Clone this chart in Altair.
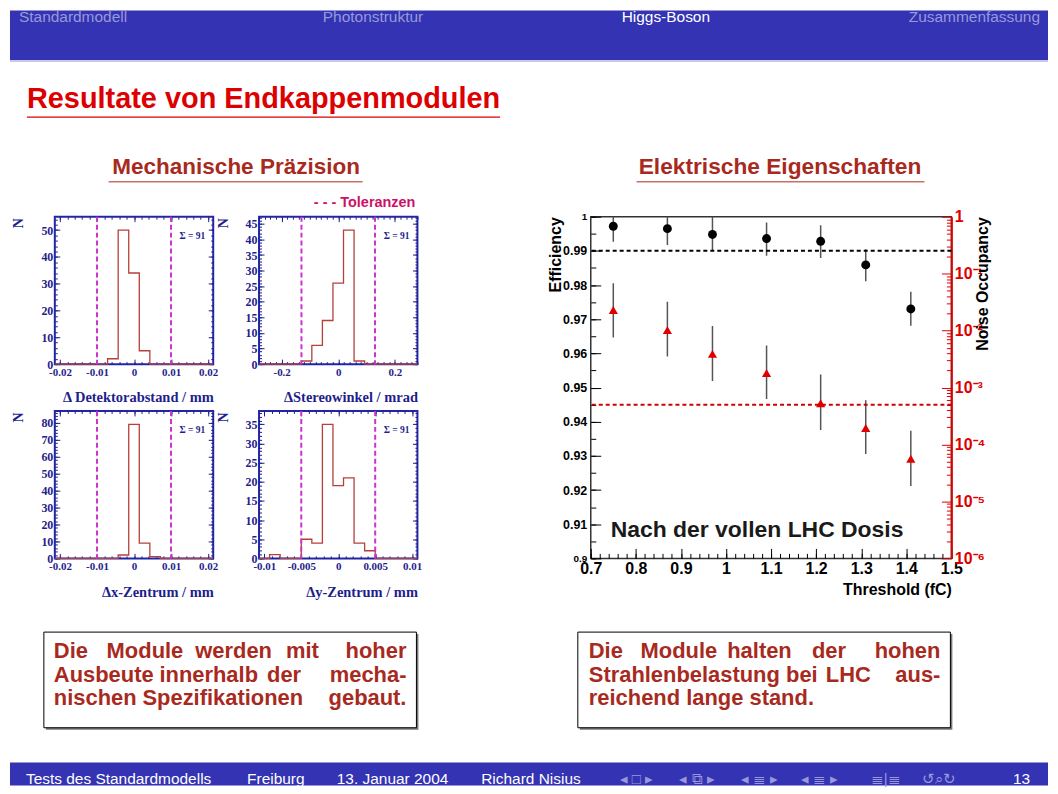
import altair as alt
import pandas as pd
import numpy as np

# ---------------- data ----------------
# four histograms, 15 equal bins each over [lo, hi]
det_range = [-0.0214, 0.0214]
det_counts = [0, 0, 0, 0, 0, 2, 50, 34, 5, 0, 0, 0, 0, 0, 0]
det_tol = [-0.01, 0.01]
det_xticks = [-0.02, -0.01, 0, 0.01, 0.02]
det_yticks = [0, 10, 20, 30, 40, 50]

stereo_range = [-0.28, 0.28]
stereo_counts = [0, 0, 0, 0, 1, 6, 14, 26, 43, 1, 0, 0, 0, 0, 0]
stereo_tol = [-0.13, 0.13]
stereo_xticks = [-0.2, 0, 0.2]
stereo_yticks = [0, 5, 10, 15, 20, 25, 30, 35, 40, 45]

xz_range = [-0.0214, 0.0214]
xz_counts = [0, 0, 0, 0, 0, 0, 2, 79, 9, 1, 0, 0, 0, 0, 0]
xz_tol = [-0.01, 0.01]
xz_xticks = [-0.02, -0.01, 0, 0.01, 0.02]
xz_yticks = [0, 10, 20, 30, 40, 50, 60, 70, 80]

yz_range = [-0.010714, 0.010714]
yz_counts = [0, 1, 0, 0, 5, 4, 35, 19, 21, 4, 2, 0, 0, 0, 0]
yz_tol = [-0.005, 0.005]
yz_xticks = [-0.01, -0.005, 0, 0.005, 0.01]
yz_yticks = [0, 5, 10, 15, 20, 25, 30, 35]

# efficiency / noise occupancy vs threshold
thr = [0.75, 0.87, 0.97, 1.09, 1.21, 1.31, 1.41]
eff = [0.9972, 0.9965, 0.9948, 0.9936, 0.9928, 0.9859, 0.9730]
eff_lo = [0.9927, 0.9917, 0.9900, 0.9886, 0.9879, 0.9811, 0.9681]
eff_hi = [1.0017, 1.0013, 1.0005, 0.9983, 0.9975, 0.9905, 0.9780]
occ = [2.3e-2, 1.02e-2, 3.9e-3, 1.8e-3, 5.3e-4, 1.95e-4, 5.6e-5]
occ_lo = [7.6e-3, 3.5e-3, 1.3e-3, 6.3e-4, 1.8e-4, 6.8e-5, 1.86e-5]
occ_hi = [6.8e-2, 3.2e-2, 1.2e-2, 5.5e-3, 1.7e-3, 6.0e-4, 1.74e-4]
eff_limit = [0.99]
occ_limit = [5e-4]

# ---------------- styles ----------------
SANS = "Liberation Sans"
SERIF = "Liberation Serif"
BLUE = "#3333B3"
NAVLIGHT = "#9999D9"
RED = "#DD0000"
DARKRED = "#A82A1E"
NAVY = "#1E1E8C"
FRAME = "#2424A6"
HCOL = "#B5403A"
TOLC = "#CC33CC"
one = pd.DataFrame({"a": [0]})


def ticks(lo, hi, step):
    n0 = int(np.ceil(lo / step - 1e-9))
    n1 = int(np.floor(hi / step + 1e-9))
    return [round(k * step, 7) for k in range(n0, n1 + 1)]


def ax(orient, values, size, color, labels=False, **kw):
    d = dict(orient=orient, values=values, tickSize=size, offset=-size,
             domain=False, grid=False, labels=labels, tickColor=color,
             tickWidth=1, title=None)
    d.update(kw)
    return alt.Axis(**d)


def hist_panel(counts, rng, tol, xmaj, xstep, ymaj, ystep, xtitle, w=159, h=148):
    edges = np.linspace(rng[0], rng[1], len(counts) + 1)
    df = pd.DataFrame({"x": edges, "n": list(counts) + [0]})
    ymax = max(counts) * 1.1
    xs = alt.Scale(domain=rng, nice=False, zero=False)
    ys = alt.Scale(domain=[0, ymax], nice=False, zero=False)
    xminor = ticks(rng[0], rng[1], xstep)
    yminor = ticks(0, ymax, ystep)
    lab = dict(labelFont=SERIF, labelFontWeight="bold",
               labelColor=NAVY, labelPadding=2, labelFlush=False,
               labelOverlap=False,
               labelExpr="replace(format(datum.value, '~g'), '\u2212', '-')")
    tit = dict(titleFont=SERIF, titleFontWeight="bold", titleColor=NAVY)
    line = alt.Chart(df).mark_line(interpolate="step-after", color=HCOL, strokeWidth=1.3).encode(
        x=alt.X("x:Q", scale=xs, axis=ax("bottom", xmaj, 5, NAVY, True, title=xtitle,
                                          titleX=w, titleY=39, titleAlign="right",
                                          titleBaseline="middle", titleFontSize=14.5,
                                          labelFontSize=11, **lab, **tit)),
        y=alt.Y("n:Q", scale=ys, axis=ax("left", ymaj, 5, NAVY, True, title="N",
                                          titleX=-41, titleY=1, titleAngle=270,
                                          titleAlign="right", titleBaseline="middle",
                                          titleFontSize=14, labelFontSize=12, **lab, **tit)),
    )
    rules = alt.Chart(pd.DataFrame({"t": tol})).mark_rule(
        color=TOLC, strokeWidth=2, strokeDash=[5, 3]).encode(
        x=alt.X("t:Q", scale=xs, axis=ax("bottom", xminor, 2.5, NAVY)))
    inv = alt.Chart(df).mark_point(opacity=0, size=1)
    l3 = inv.encode(x=alt.X("x:Q", scale=xs, axis=ax("top", xmaj, 5, NAVY)),
                    y=alt.Y("n:Q", scale=ys, axis=ax("left", yminor, 2.5, NAVY)))
    l4 = inv.encode(x=alt.X("x:Q", scale=xs, axis=ax("top", xminor, 2.5, NAVY)),
                    y=alt.Y("n:Q", scale=ys, axis=ax("right", ymaj, 5, NAVY)))
    l5 = inv.encode(y=alt.Y("n:Q", scale=ys, axis=ax("right", yminor, 2.5, NAVY)))
    sig = alt.Chart(one).mark_text(text="\u03a3 = %d" % sum(counts), align="right", baseline="middle",
                                   font=SERIF, fontWeight="bold", fontSize=9.5, color=NAVY).encode(
        x=alt.value(w - 8), y=alt.value(19))
    return alt.layer(line, rules, l3, l4, l5, sig).resolve_axis(
        x="independent", y="independent").properties(
        width=w, height=h, view=alt.ViewBackground(stroke=FRAME, strokeWidth=2))


tl = hist_panel(det_counts, det_range, det_tol, det_xticks, 0.002, det_yticks, 2, "\u0394 Detektorabstand / mm")
tr = hist_panel(stereo_counts, stereo_range, stereo_tol, stereo_xticks, 0.02, stereo_yticks, 1, "\u0394Stereowinkel / mrad")
bl = hist_panel(xz_counts, xz_range, xz_tol, xz_xticks, 0.002, xz_yticks, 2, "\u0394x-Zentrum / mm")
br = hist_panel(yz_counts, yz_range, yz_tol, yz_xticks, 0.001, yz_yticks, 1, "\u0394y-Zentrum / mm")

# (nested concats take no room in a flush layout, so spacings include the row height)
left_block = alt.vconcat(
    alt.hconcat(tl, tr, spacing=46, bounds="flush"),
    alt.hconcat(bl, br, spacing=46, bounds="flush"),
    spacing=195, bounds="flush")

# ---------------- efficiency plot ----------------
W, H = 362, 343
xs = alt.Scale(domain=[0.7, 1.5], nice=False, zero=False)
ys = alt.Scale(domain=[0.9, 1.0], nice=False, zero=False)
ls = alt.Scale(type="log", domain=[1e-6, 1], nice=False)
eff_df = pd.DataFrame({"thr": thr, "eff": eff, "lo": eff_lo, "hi": eff_hi})
occ_df = pd.DataFrame({"thr": thr, "occ": occ, "lo": occ_lo, "hi": occ_hi})

xmaj = ticks(0.7, 1.5, 0.1)
xmin = ticks(0.7, 1.5, 0.02)
ymaj = ticks(0.9, 1.0, 0.01)
ymin = ticks(0.9, 1.0, 0.005)
lmaj = [1e-6, 1e-5, 1e-4, 1e-3, 1e-2, 1e-1, 1.0]
lmin = [k * 10.0 ** e for e in range(-6, 0) for k in range(2, 10)]

x_main = ax("bottom", xmaj, 10, "black", True, labelFont=SANS, labelFontWeight="bold",
            labelFontSize=16, labelColor="black", labelPadding=2, labelFlush=False,
            labelOverlap=False, format="~g",
            title="Threshold (fC)", titleX=W, titleY=41, titleAlign="right",
            titleBaseline="middle", titleFont=SANS, titleFontWeight="bold",
            titleFontSize=16, titleColor="black")
y_main = ax("left", ymaj, 10, "black", True, labelFont=SANS, labelFontWeight="bold",
            labelFontSize={"condition": {"test": "datum.value > 0.9999 || datum.value < 0.9001", "value": 10}, "value": 12.5},
            labelColor="black", labelPadding=4, labelFlush=False, labelOverlap=False, format="~g",
            title="Efficiency", titleX=-45, titleY=0, titleAngle=270, titleAlign="right",
            titleBaseline="middle", titleFont=SANS, titleFontWeight="bold",
            titleFontSize=16, titleColor="black")
occ_main = ax("right", lmaj, 10, RED, True, labelFont=SANS, labelFontWeight="bold",
              labelFontSize=16, labelColor=RED, labelPadding=3, labelFlush=False,
              labelOverlap=False,
              labelExpr="datum.value > 0.5 ? '1' : '10' + ['', '\u207b\u00b9', '\u207b\u00b2', '\u207b\u00b3', '\u207b\u2074', '\u207b\u2075', '\u207b\u2076'][round(-log(datum.value) / LN10)]",
              title="Noise Occupancy", titleX=41, titleY=0, titleAngle=270, titleAlign="right",
              titleBaseline="middle", titleFont=SANS, titleFontWeight="bold",
              titleFontSize=16, titleColor="black")

r1 = alt.Chart(eff_df).mark_rule(color="#555555", strokeWidth=1.5, clip=True).encode(
    x=alt.X("thr:Q", scale=xs, axis=x_main),
    y=alt.Y("lo:Q", scale=ys, axis=y_main), y2="hi:Q")
r2 = alt.Chart(eff_df).mark_point(shape="circle", filled=True, color="black", size=80, opacity=1).encode(
    x=alt.X("thr:Q", scale=xs, axis=ax("bottom", xmin, 5, "black")),
    y=alt.Y("eff:Q", scale=ys, axis=ax("left", ymin, 5, "black")))
r3 = alt.Chart(pd.DataFrame({"v": eff_limit})).mark_rule(color="black", strokeWidth=2, strokeDash=[4, 3]).encode(
    y=alt.Y("v:Q", scale=ys, axis=None))
r4 = alt.Chart(occ_df).mark_rule(color="#555555", strokeWidth=1.5, clip=True).encode(
    x=alt.X("thr:Q", scale=xs, axis=None),
    y=alt.Y("lo:Q", scale=ls, axis=occ_main), y2="hi:Q")
r5 = alt.Chart(occ_df).mark_point(shape="triangle-up", filled=True, color="#E00000", size=85, opacity=1).encode(
    x=alt.X("thr:Q", scale=xs, axis=None),
    y=alt.Y("occ:Q", scale=ls, axis=ax("right", lmin, 5, RED)))
r6 = alt.Chart(pd.DataFrame({"v": occ_limit})).mark_rule(color="#D00000", strokeWidth=2, strokeDash=[4, 3]).encode(
    y=alt.Y("v:Q", scale=ls, axis=alt.Axis(orient="right", ticks=False, labels=False, domain=True,
                                            domainColor=RED, domainWidth=2, grid=False, title=None)))
r7 = alt.Chart(one).mark_text(text="Nach der vollen LHC Dosis", align="left", baseline="middle",
                              font=SANS, fontWeight="bold", fontSize=23, color="#1a1a1a").encode(
    x=alt.value(20), y=alt.value(315))
eff_plot = alt.layer(r1, r2, r3, r4, r5, r6, r7).resolve_scale(y="independent").resolve_axis(
    x="independent", y="independent").properties(
    width=W, height=H, view=alt.ViewBackground(stroke="#333333", strokeWidth=1.5))


# ---------------- slide decorations ----------------
def rect(x0, x1, y0, y1, **kw):
    return alt.Chart(one).mark_rect(**kw).encode(
        x=alt.value(x0), x2=alt.value(x1), y=alt.value(y0), y2=alt.value(y1))


def txt(s, x, y, size, color, weight="normal", align="left", font=SANS):
    return alt.Chart(one).mark_text(text=s, align=align, baseline="middle", fontSize=size,
                                    color=color, fontWeight=weight, font=font).encode(
        x=alt.value(x), y=alt.value(y))


def hline(x0, x1, y, color, w):
    return alt.Chart(one).mark_rule(color=color, strokeWidth=w).encode(
        x=alt.value(x0), x2=alt.value(x1), y=alt.value(y))


def spacer(w, h):
    return alt.Chart(one).mark_text(text="").properties(width=w, height=h)


NS = 15.5
top = alt.layer(
    rect(0, 1042, 0, 50, color=BLUE),
    hline(0, 1042, 51, "#C8C8E6", 1.5),
    txt("Standardmodell", 9, 7, NS, NAVLIGHT),
    txt("Photonstruktur", 314, 7, NS, NAVLIGHT),
    txt("Higgs-Boson", 614, 7, NS, "white"),
    txt("Zusammenfassung", 1034, 7, NS, NAVLIGHT, align="right"),
    txt("Resultate von Endkappenmodulen", 17, 89, 29, RED, weight="bold"),
    hline(17, 492, 107, RED, 1.2),
    txt("Mechanische Pr\u00e4zision", 227, 157, 22.6, DARKRED, weight="bold", align="center"),
    hline(99, 354, 172, DARKRED, 1),
    txt("Elektrische Eigenschaften", 773, 157, 22.8, DARKRED, weight="bold", align="center"),
    hline(629, 918, 172, DARKRED, 1),
    txt("- - - Toleranzen", 407, 193, 14.5, "#CC1166", weight="bold", align="right"),
).properties(width=1042, height=207)

middle = alt.hconcat(spacer(45, 343), left_block, spacer(538, 343), eff_plot, spacer(97, 343),
                     spacing=0, bounds="flush")

# bottom canvas starts at page y = 215
BX = 22
Y1, Y2, Y3 = 436, 460, 483
bottom_layers = [
    rect(36, 410, 419, 515, color="#777777"),
    rect(34, 408, 417, 513, fill="white", stroke="black", strokeWidth=1),
    rect(572, 946, 419, 515, color="#777777"),
    rect(570, 944, 417, 513, fill="white", stroke="black", strokeWidth=1),
    txt("Die", 44, Y1, BX, DARKRED, "bold"),
    txt("Module", 97, Y1, BX, DARKRED, "bold"),
    txt("werden", 186, Y1, BX, DARKRED, "bold"),
    txt("mit", 277, Y1, BX, DARKRED, "bold"),
    txt("hoher", 398, Y1, BX, DARKRED, "bold", align="right"),
    txt("Ausbeute", 44, Y2, BX, DARKRED, "bold"),
    txt("innerhalb", 150, Y2, BX, DARKRED, "bold"),
    txt("der", 258, Y2, BX, DARKRED, "bold"),
    txt("mecha-", 398, Y2, BX, DARKRED, "bold", align="right"),
    txt("nischen", 44, Y3, BX, DARKRED, "bold"),
    txt("Spezifikationen", 133, Y3, BX, DARKRED, "bold"),
    txt("gebaut.", 398, Y3, BX, DARKRED, "bold", align="right"),
    txt("Die", 581, Y1, BX, DARKRED, "bold"),
    txt("Module", 633, Y1, BX, DARKRED, "bold"),
    txt("halten", 720, Y1, BX, DARKRED, "bold"),
    txt("der", 805, Y1, BX, DARKRED, "bold"),
    txt("hohen", 934, Y1, BX, DARKRED, "bold", align="right"),
    txt("Strahlenbelastung", 581, Y2, BX, DARKRED, "bold"),
    txt("bei", 779, Y2, BX, DARKRED, "bold"),
    txt("LHC", 819, Y2, BX, DARKRED, "bold"),
    txt("aus-", 934, Y2, BX, DARKRED, "bold", align="right"),
    txt("reichend lange stand.", 581, Y3, BX, DARKRED, "bold"),
    rect(0, 1042, 548, 571, color=BLUE),
    txt("Tests des Standardmodells", 16, 564, NS, "white"),
    txt("Freiburg", 238, 564, NS, "white"),
    txt("13. Januar 2004", 328, 564, NS, "white"),
    txt("Richard Nisius", 473, 564, NS, "white"),
    txt("\u25c2 \u25a1 \u25b8", 612, 564, 15, NAVLIGHT),
    txt("\u25c2 \u29c9 \u25b8", 672, 564, 15, NAVLIGHT),
    txt("\u25c2 \u2263 \u25b8", 734, 564, 15, NAVLIGHT),
    txt("\u25c2 \u2263 \u25b8", 794, 564, 15, NAVLIGHT),
    txt("\u2263|\u2263", 864, 564, 15, NAVLIGHT),
    txt("\u21ba\u2315\u21bb", 916, 564, 15, NAVLIGHT),
    txt("13", 1024, 564, NS, "white", align="right"),
]
bottom = alt.layer(*bottom_layers).properties(width=1042, height=571)

chart = alt.vconcat(top, middle, bottom, spacing=0, bounds="flush").properties(
    padding=0).configure(font=SANS).configure_view(stroke="transparent")

chart.save("out.html", embed_options={"renderer": "svg", "actions": False})
